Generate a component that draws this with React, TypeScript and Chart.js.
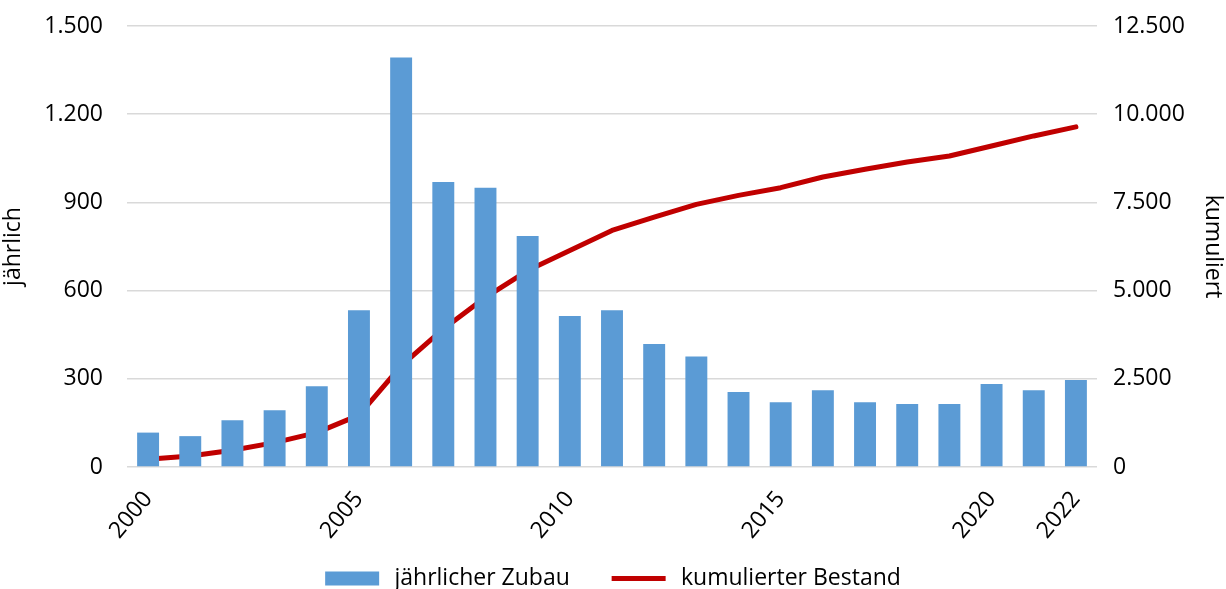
import React, { useEffect, useRef } from "react";
import { Chart, registerables } from "chart.js";

Chart.register(...registerables);

const years: string[] = [
  "2000", "2001", "2002", "2003", "2004", "2005", "2006", "2007", "2008", "2009", "2010",
  "2011", "2012", "2013", "2014", "2015", "2016", "2017", "2018", "2019", "2020", "2021", "2022",
];
const shownYears: string[] = ["2000", "2005", "2010", "2015", "2020", "2022"];

const annualAdditions: number[] = [
  117, 105, 159, 193, 275, 533, 1393, 969, 950, 786, 514,
  533, 418, 376, 255, 220, 261, 220, 214, 214, 282, 261, 296,
];
const cumulativeStock: number[] = [
  218, 312, 474, 690, 975, 1469, 2869, 3912, 4810, 5568, 6136,
  6705, 7083, 7443, 7699, 7917, 8219, 8438, 8645, 8816, 9100, 9384, 9640,
];

const seriesLabels = ["jährlicher Zubau", "kumulierter Bestand"];
const axisTitles = { left: "jährlich", right: "kumuliert" };

const FONT = "'Open Sans', sans-serif";
const FS = 23;
const fmt = (v: number) => String(v).replace(/\B(?=(\d{3})+(?!\d))/g, ".");

export default function App() {
  const ref = useRef<HTMLCanvasElement | null>(null);

  useEffect(() => {
    document.body.style.margin = "0";
    const ctx = ref.current;
    if (!ctx) return;
    const chart = new Chart(ctx, {
      type: "bar",
      data: {
        labels: years,
        datasets: [
          {
            type: "bar",
            label: seriesLabels[0],
            data: annualAdditions,
            backgroundColor: "#5B9BD5",
            borderWidth: 0,
            barPercentage: 0.52,
            categoryPercentage: 1,
            yAxisID: "y",
          },
          {
            type: "line",
            label: seriesLabels[1],
            data: cumulativeStock,
            borderColor: "#C00000",
            backgroundColor: "#C00000",
            borderWidth: 5,
            borderCapStyle: "round",
            borderJoinStyle: "round",
            pointRadius: 0,
            tension: 0,
            yAxisID: "y1",
          },
        ],
      },
      options: {
        animation: false,
        responsive: true,
        maintainAspectRatio: false,
        layout: { padding: { top: 26, left: 0, right: 0, bottom: -11 } },
        plugins: {
          tooltip: { enabled: false },
          legend: {
            position: "bottom",
            labels: {
              color: "#000",
              font: { family: FONT, size: FS },
              usePointStyle: true,
              pointStyleWidth: 54,
              boxHeight: 14,
              padding: 0,
              generateLabels: (c: any) => {
                const items = (Chart.defaults.plugins.legend.labels as any).generateLabels(c);
                items.forEach((it: any, i: number) => {
                  it.pointStyle = i === 0 ? "rect" : "line";
                  it.text = "\u2009" + it.text + (i === 0 ? "       " : "");
                });
                return items;
              },
            },
          },
        },
        scales: {
          x: {
            grid: { display: false, drawTicks: false },
            border: { display: false },
            afterFit: (s: any) => {
              s.height = 100;
              s.paddingLeft = 0;
              s.paddingRight = 0;
            },
            ticks: {
              color: "#000",
              font: { family: FONT, size: FS },
              autoSkip: false,
              minRotation: 50,
              maxRotation: 50,
              padding: 19,
              callback: function (this: any, _v: any, i: number) {
                const y = years[i];
                return shownYears.includes(y) ? y : "";
              },
            },
          },
          y: {
            position: "left",
            min: 0,
            max: 1500,
            afterFit: (s: any) => {
              s.width = 127;
              s.paddingTop = 0;
              s.paddingBottom = 0;
            },
            grid: { color: "#D9D9D9", lineWidth: 1.5, drawTicks: false },
            border: { display: false },
            ticks: {
              stepSize: 300,
              color: "#000",
              font: { family: FONT, size: FS },
              padding: 24,
              callback: (v: any) => fmt(Number(v)),
            },
            title: {
              display: true,
              text: axisTitles.left,
              color: "#000",
              font: { family: FONT, size: FS },
              padding: { top: 0, bottom: 0 },
            },
          },
          y1: {
            position: "right",
            min: 0,
            max: 12500,
            afterFit: (s: any) => {
              s.width = 129;
              s.paddingTop = 0;
              s.paddingBottom = 0;
            },
            grid: { display: false, drawTicks: false },
            border: { display: false },
            ticks: {
              stepSize: 2500,
              color: "#000",
              font: { family: FONT, size: FS },
              padding: 16,
              callback: (v: any) => fmt(Number(v)),
            },
            title: {
              display: true,
              text: axisTitles.right,
              color: "#000",
              font: { family: FONT, size: FS },
              padding: { top: 0, bottom: 0 },
            },
          },
        },
      },
    });
    return () => chart.destroy();
  }, []);

  return (
    <div style={{ width: 1226, height: 589, position: "relative" }}>
      <canvas ref={ref} />
    </div>
  );
}
